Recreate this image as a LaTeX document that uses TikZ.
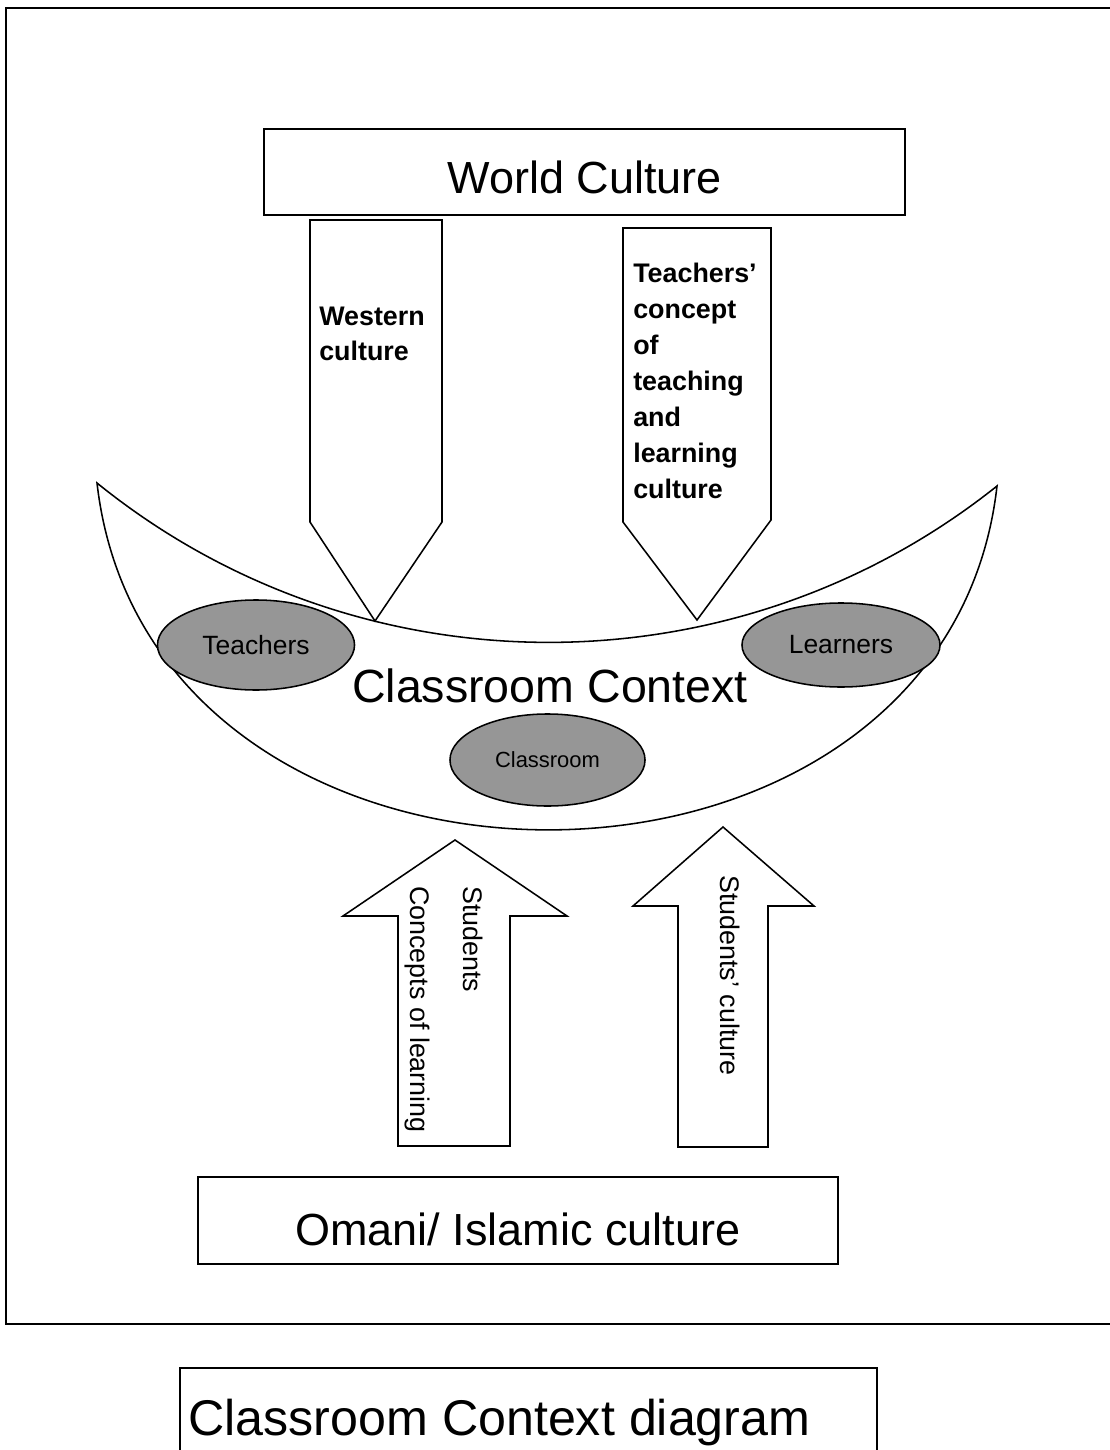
\documentclass[tikz,border=0pt]{standalone}
\usepackage{fontspec}
\setmainfont{Liberation Sans}
\usetikzlibrary{shapes.geometric}
\definecolor{ovalgray}{RGB}{150,150,150}
\begin{document}
\begin{tikzpicture}[x=0.025cm, y=-0.025cm,
  outline/.style={draw=black, line width=1.1pt, line join=miter},
  framestyle/.style={draw=black, line width=1.6pt},
  box/.style={outline, rectangle, inner sep=0pt, text depth=0pt},
  bigtext/.style={font=\fontsize{32}{38}\selectfont},
  oval/.style={outline, ellipse, fill=ovalgray, inner sep=0pt, font=\fontsize{18.8}{22}\selectfont},
  arrowbody/.style={outline, fill=white},
  boldlabel/.style={anchor=base west, align=left, inner sep=0pt, font=\fontsize{19.1}{25.6}\selectfont\bfseries},
  sidelabel/.style={rotate=-90, anchor=base west, inner sep=0pt, font=\fontsize{19.1}{23}\selectfont}]
\useasboundingbox (0,0) rectangle (1109,1450);

% outer frame (right edge lies outside the page)
\draw[framestyle] (6,8) rectangle (1120,1324);

% top and bottom boxes
\node[box, bigtext, minimum width=16.025cm, minimum height=2.15cm, text height=1.05cm]
  (world) at (584.5,172) {World Culture};
\node[box, bigtext, minimum width=16cm, minimum height=2.175cm, text height=1.225cm]
  (omani) at (518,1220.5) {Omani/ Islamic culture};

% crescent (classroom context)
\draw[outline] (97,483) .. controls (150,945) and (945,945) .. (997,486)
  .. controls (735,695) and (359,695) .. (97,483) -- cycle;
\node[anchor=base, inner sep=0pt, font=\fontsize{33.1}{40}\selectfont] (ctx) at (550,702) {Classroom Context};

% downward arrows
\draw[arrowbody] (310,220) -- (442,220) -- (442,522) -- (375,621) -- (310,522) -- cycle;
\node[boldlabel] (western) at (319,361) {Western\\culture};
\draw[arrowbody] (623,228) -- (771,228) -- (771,520) -- (697,620) -- (623,522) -- cycle;
\node[boldlabel] (tconcept) at (633,498) {Teachers’\\concept\\of\\teaching\\and\\learning\\culture};

% upward arrows
\draw[arrowbody] (455,840) -- (567,916) -- (510,916) -- (510,1146) -- (398,1146) -- (398,916) -- (343,916) -- cycle;
\node[sidelabel] (stud) at (463,886) {Students};
\node[sidelabel] (sconcept) at (410,886) {Concepts of learning};
\draw[arrowbody] (723,827) -- (814,906) -- (768,906) -- (768,1147) -- (678,1147) -- (678,906) -- (633,906) -- cycle;
\node[sidelabel] (sculture) at (720,875) {Students’ culture};

% ellipses
\node[oval, minimum width=4.925cm, minimum height=2.25cm] (teachers) at (256,645) {Teachers};
\node[oval, minimum width=4.95cm, minimum height=2.1cm] (learners) at (841,645) {Learners};
\node[oval, minimum width=4.875cm, minimum height=2.3cm, font=\fontsize{15.6}{18}\selectfont] (classroom) at (547.5,760) {Classroom};

% caption box (bottom edge below the page)
\node[box, minimum width=17.425cm, minimum height=2.8cm] (caption) at (528.5,1424) {};
\node[anchor=base west, inner sep=0pt, font=\fontsize{35.7}{42}\selectfont] (captext) at (188,1435) {Classroom Context diagram};
\end{tikzpicture}
\end{document}
